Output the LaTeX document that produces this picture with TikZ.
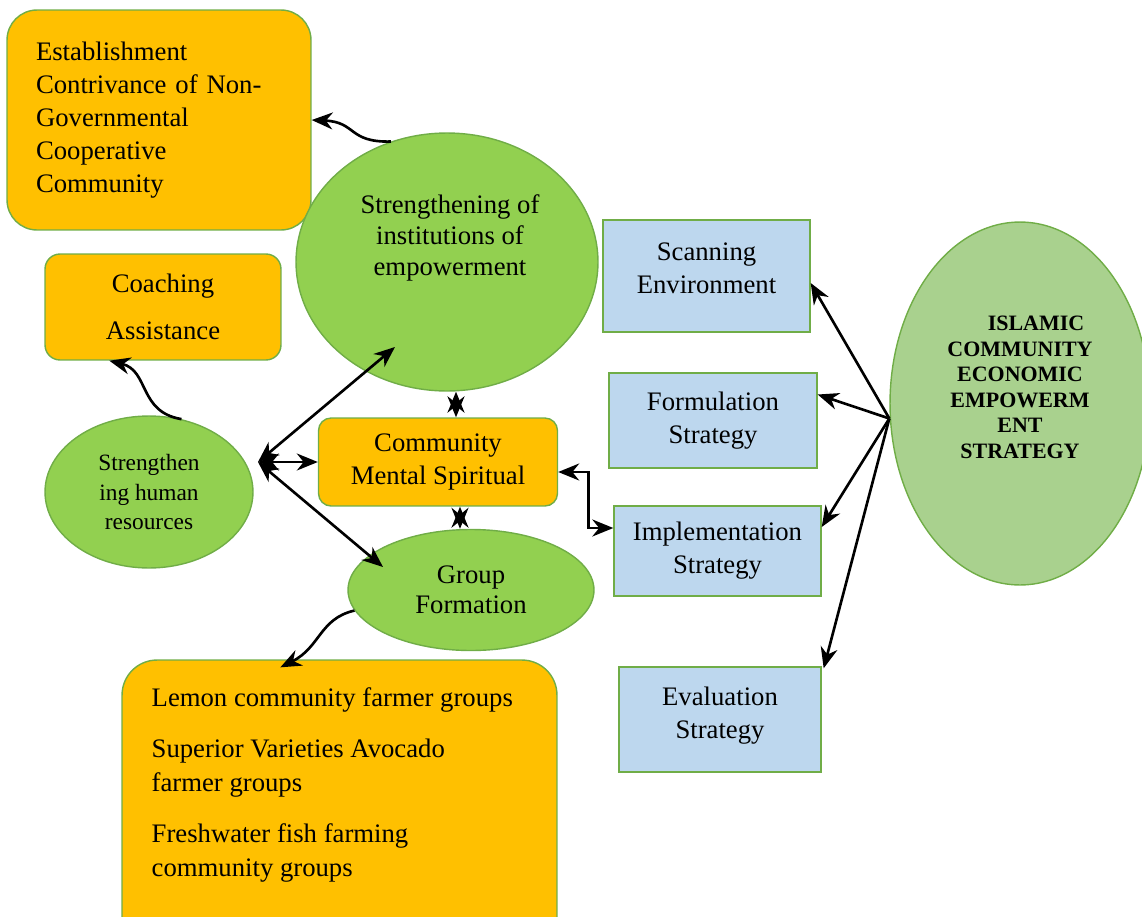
\documentclass[tikz,border=0pt]{standalone}
\usepackage{fontspec}
\setmainfont{Liberation Serif}
\usepackage{tikz}
\usetikzlibrary{calc,positioning,shapes,arrows.meta}
\definecolor{boxorange}{HTML}{FFC000}
\definecolor{ovalgreen}{HTML}{92D050}
\definecolor{edgegreen}{HTML}{70AD47}
\definecolor{boxblue}{HTML}{BDD7EE}
\definecolor{islgreen}{HTML}{A9D18E}

\begin{document}
\begin{tikzpicture}[x = .02cm, y = -.02cm,
  every node/.style = {font = \fontsize{15.2}{18.7}\selectfont},
  orangebox/.style = {rectangle, rounded corners = .4cm, fill = boxorange, draw = edgegreen, line width = .8pt},
  greenoval/.style = {ellipse, fill = ovalgreen, draw = edgegreen, line width = .8pt},
  bluebox/.style = {rectangle, fill = boxblue, draw = edgegreen, line width = .8pt, align = center},
  link/.style = {-{Stealth[length = 4.2mm, width = 3.4mm]}, line width = 1.5pt},
  twoway/.style = {{Stealth[length = 4.2mm, width = 3.4mm]}-{Stealth[length = 4.2mm, width = 3.4mm]}, line width = 1.5pt}]
\useasboundingbox (0,0) rectangle (1142,916);
\clip (0,0) rectangle (1142,916);

\node[orangebox, rounded corners = .6cm, minimum width = 6.08cm, minimum height = 4.4cm, text width = 4.92cm, inner xsep = .58cm, align = left] (est) at (159,120) {Establishment\\Contrivance of Non-\\Governmental\\Cooperative\\Community};
\node[orangebox, rounded corners = .3cm, minimum width = 4.72cm, minimum height = 2.12cm, align = center, font = \fontsize{15.2}{26.6}\selectfont] (coach) at (163,307) {Coaching\\Assistance};
\node[greenoval, minimum width = 6.04cm, minimum height = 5.16cm] (inst) at (447,262) {};
\node[align = center, font = \fontsize{15.2}{17.4}\selectfont] (insttext) at ($(inst.center)+(3,-24)$) {Strengthening of\\institutions of\\empowerment};
\node[greenoval, minimum width = 4.16cm, minimum height = 3.04cm, align = center, font = \fontsize{13.3}{17}\selectfont] (hr) at (149,492) {Strengthen\\ing human\\resources};
\node[orangebox, rounded corners = .25cm, minimum width = 4.78cm, minimum height = 1.76cm, align = center] (comm) at (438,462) {Community\\Mental Spiritual};
\node[greenoval, minimum width = 4.92cm, minimum height = 2.42cm, align = center, font = \fontsize{15.2}{17}\selectfont] (grp) at (471,590) {Group\\Formation};
\node[orangebox, rounded corners = .7cm, minimum width = 8.7cm, minimum height = 6cm] (farm) at (339.5,810) {};
\node[anchor = north west, align = left, inner sep = 0pt, font = \fontsize{15.2}{19.3}\selectfont] (farmtext) at ($(farm.north west)+(30,28)$) {Lemon community farmer groups\\[.34cm]Superior Varieties Avocado\\farmer groups\\[.34cm]Freshwater fish farming\\community groups};

\node[bluebox, minimum width = 4.14cm, minimum height = 2.24cm] (scan) at (706.5,276) {Scanning\\Environment\\[-.34cm]};
\node[bluebox, minimum width = 4.16cm, minimum height = 1.9cm] (form) at (713,420.5) {Formulation\\Strategy};
\node[bluebox, minimum width = 4.14cm, minimum height = 1.8cm] (impl) at (717.5,551) {Implementation\\Strategy};
\node[bluebox, minimum width = 4.04cm, minimum height = 2.1cm] (eval) at (720,719.5) {Evaluation\\Strategy\\[-.4cm]};

\node[ellipse, fill = islgreen, draw = edgegreen, line width = .8pt, minimum width = 5.2cm, minimum height = 7.26cm] (isl) at (1020,403.5) {};
\node[align = center, font = \bfseries\fontsize{12.5}{14.5}\selectfont] (isltext) at ($(isl.center)+(0,-16)$) {\hspace*{.64cm}ISLAMIC\\COMMUNITY\\ECONOMIC\\EMPOWERM\\ENT\\STRATEGY};

\draw[link] (inst.115) .. controls +(-43,1) and +(45,2) .. (est.east);
\draw[link] (hr.66) .. controls +(-43,-7) and +(40,10) .. ($(coach.south west)+(65,0)$);
\draw[link] (grp.190) .. controls +(-35,8) and +(40,-20) .. ($(farm.north west)+(159,8)$);

\coordinate (hub) at (258,462);
\draw[twoway] (hub) -- ($(inst.center)+(-52,85)$);
\draw[twoway] (hub) -- (comm.west);
\draw[twoway] (hub) -- ($(grp.center)+(-88,-23)$);
\draw[twoway] ($(comm.north)+(18,0)$) -- ($(comm.north |- inst.south)+(18,0)$);
\draw[twoway] ($(comm.south)+(22,0)$) -- ($(comm.south |- grp.north)+(22,0)$);
\draw[twoway] ($(comm.east)+(0,10)$) -- ++(30,0) |- ($(impl.west)+(0,-23)$);

\coordinate (ihub) at ($(isl.west)+(0,15)$);
\draw[link] (ihub) -- ($(scan.east)+(0,7)$);
\draw[link] (ihub) -- ($(form.east)+(0,-26)$);
\draw[link] (ihub) -- ($(impl.east)+(0,-24)$);
\draw[link] (ihub) -- ($(eval.north east)+(2,2)$);
\end{tikzpicture}
\end{document}
